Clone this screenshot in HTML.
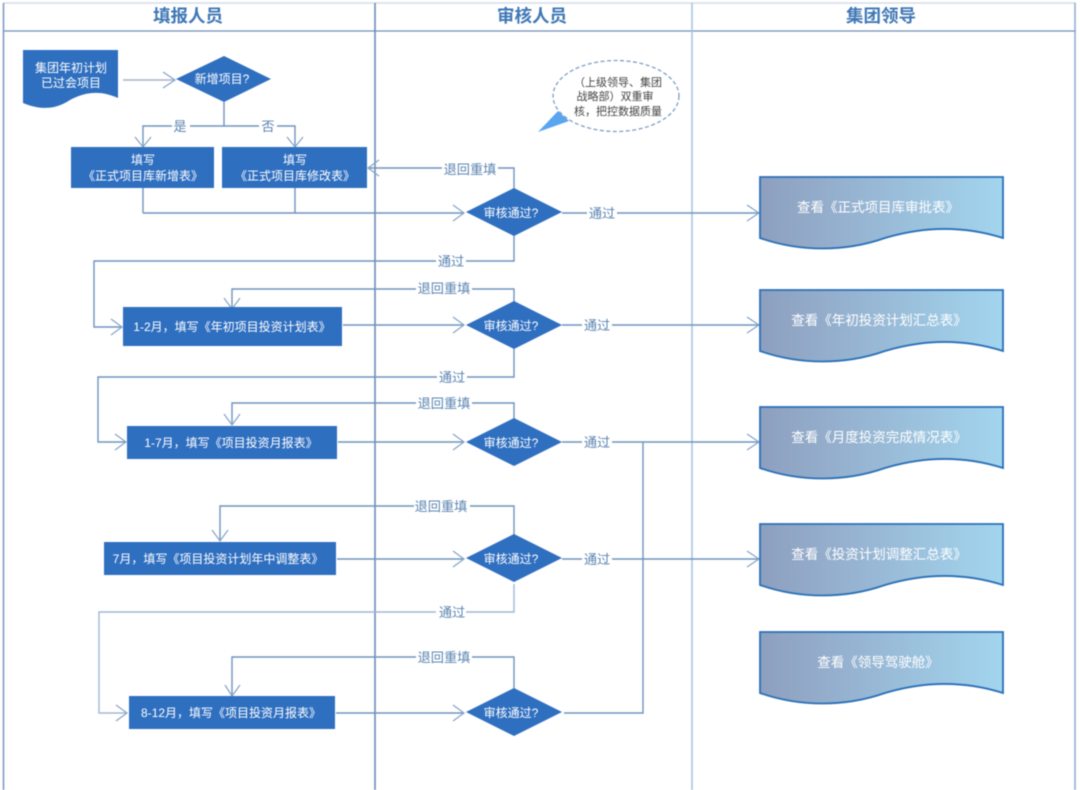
<!DOCTYPE html>
<html><head><meta charset="utf-8">
<style>
html,body{margin:0;padding:0;background:#fff;width:1080px;height:790px;overflow:hidden}
svg{display:block;filter:blur(.5px)}
text{font-family:"Liberation Sans","Noto Sans CJK SC",sans-serif;text-anchor:middle}
.w{fill:#fff;font-size:12px}
.r{fill:#fff;font-size:13.5px}
.d{fill:#fff;font-size:12px}
.l{fill:#5b84b1;font-size:13.2px}
.h{fill:#3f77b5;font-size:17.5px;font-weight:700}
.k{fill:#444;font-size:11px}
.c{fill:none;stroke:#6f93bd;stroke-width:1.4}
.a{fill:none;stroke:#86a3c6;stroke-width:1.2}
.n{fill:#2f6fc0}
</style></head><body>
<svg width="1080" height="790" viewBox="0 0 1080 790" xmlns="http://www.w3.org/2000/svg">
<defs>
<linearGradient id="g" x1="0" x2="1" y1="0" y2="0"><stop offset="0" stop-color="#8e9fbf"/><stop offset="1" stop-color="#a3d5ee"/></linearGradient>
<path id="wave" d="M0 0H243V61C205 49 165 49 125 61C85 75 40 75 0 61Z" fill="url(#g)" stroke="#2a70b8" stroke-width="1.8"/>
<path id="dia" d="M-48 0L0 -24L48 0L0 24Z" class="n"/>
</defs>

<!-- frame -->
<path d="M3 3H1076" stroke="#d3dee9" stroke-width="1.5" fill="none"/>
<path d="M3 31H1076" stroke="#6f8fb8" stroke-width="1.3" fill="none"/>
<path d="M3.5 3V790" stroke="#7d9cc4" stroke-width="1.6" fill="none"/>
<path d="M375 3V790" stroke="#6c8cb6" stroke-width="1.6" fill="none"/>
<path d="M692 3V790" stroke="#a9c4e2" stroke-width="1.6" fill="none"/>
<path d="M1075 3V790" stroke="#8aaad4" stroke-width="1.5" fill="none"/>
<text class="h" x="188" y="22">填报人员</text>
<text class="h" x="532" y="22">审核人员</text>
<text class="h" x="881" y="22">集团领导</text>

<!-- connectors -->
<g class="c">
<path d="M123 80H174" stroke="#a5b4c8"/>
<path d="M224 102V126M143 149V126H295V149"/>
<path d="M143 188V213M295 188V213M143 213H464"/>
<path d="M514 189V168H368"/>
<path d="M562 213H758"/>
<path d="M514 235V261H94V327H122"/>
<path d="M514 302V289H232V309"/>
<path d="M343 325H464"/>
<path d="M562 325H758"/>
<path d="M514 349V377H98V442H126"/>
<path d="M514 419V403H232V425"/>
<path d="M338 442H464"/>
<path d="M562 442H758"/>
<path d="M514 535V506H220V541"/>
<path d="M337 559H464"/>
<path d="M562 559H758"/>
<path d="M514 584V612H99V713H127" stroke="#a0b8d4"/>
<path d="M514 689V657H232V696"/>
<path d="M336 713H464"/>
<path d="M564 713H643V442"/>
</g>

<!-- arrowheads -->
<g class="a">
<path d="M163 72L175 80L163 88"/>
<path d="M135 137L143 147L151 137"/>
<path d="M287 137L295 147L303 137"/>
<path d="M379 160L368 168L379 176"/>
<path d="M453 205L464 213L453 221"/>
<path d="M747 205L759 213L747 221"/>
<path d="M111 319L122 327L111 335"/>
<path d="M224 298L232 309L240 298"/>
<path d="M453 317L464 325L453 333"/>
<path d="M747 317L759 325L747 333"/>
<path d="M115 434L126 442L115 450"/>
<path d="M224 414L232 425L240 414"/>
<path d="M453 434L464 442L453 450"/>
<path d="M747 434L759 442L747 450"/>
<path d="M212 530L220 541L228 530"/>
<path d="M453 551L464 559L453 567"/>
<path d="M747 551L759 559L747 567"/>
<path d="M116 705L127 713L116 721"/>
<path d="M225 685L232 696L240 685"/>
<path d="M453 705L464 713L453 721"/>
</g>

<!-- start doc -->
<path d="M23 50H118V98C100 90 85 92 70 100C55 110 40 110 23 103Z" fill="#2f6fc0"/>
<text class="w" x="71" y="72">集团年初计划</text>
<text class="w" x="71" y="87">已过会项目</text>

<!-- decision start -->
<path d="M176 79L224 56L271 79L224 102Z" class="n"/>
<text class="d" x="222" y="83">新增项目?</text>

<!-- boxes -->
<rect x="71" y="147" width="143" height="41" class="n"/>
<text class="w" x="143" y="164">填写</text>
<text class="w" x="143" y="180">《正式项目库新增表》</text>
<rect x="222" y="147" width="145" height="41" class="n"/>
<text class="w" x="295" y="164">填写</text>
<text class="w" x="295" y="180">《正式项目库修改表》</text>
<rect x="123" y="307" width="219" height="39" class="n"/>
<text class="w" x="232" y="331">1-2月，填写《年初项目投资计划表》</text>
<rect x="127" y="426" width="210" height="33" class="n"/>
<text class="w" x="231" y="447">1-7月，填写《项目投资月报表》</text>
<rect x="104" y="542" width="232" height="33" class="n"/>
<text class="w" x="218" y="563">7月，填写《项目投资计划年中调整表》</text>
<rect x="129" y="696" width="206" height="33" class="n"/>
<text class="w" x="231" y="717">8-12月，填写《项目投资月报表》</text>

<!-- decisions -->
<use href="#dia" x="514" y="212"/><text class="d" x="511" y="217">审核通过?</text>
<use href="#dia" x="514" y="325"/><text class="d" x="511" y="330">审核通过?</text>
<use href="#dia" x="514" y="442"/><text class="d" x="511" y="447">审核通过?</text>
<use href="#dia" x="514" y="558"/><text class="d" x="511" y="563">审核通过?</text>
<use href="#dia" x="514" y="712"/><text class="d" x="511" y="717">审核通过?</text>

<!-- connector labels -->
<g>
<rect x="172" y="118" width="18" height="16" fill="#fff"/><text class="l" x="180" y="131">是</text>
<rect x="259" y="118" width="18" height="16" fill="#fff"/><text class="l" x="268" y="131">否</text>
<rect x="442" y="160" width="56" height="16" fill="#fff"/><text class="l" x="470" y="174">退回重填</text>
<rect x="587" y="205" width="30" height="16" fill="#fff"/><text class="l" x="602" y="218">通过</text>
<rect x="436" y="253" width="30" height="16" fill="#fff"/><text class="l" x="451" y="266">通过</text>
<rect x="416" y="281" width="56" height="16" fill="#fff"/><text class="l" x="444" y="293">退回重填</text>
<rect x="582" y="317" width="30" height="16" fill="#fff"/><text class="l" x="597" y="330">通过</text>
<rect x="437" y="369" width="30" height="16" fill="#fff"/><text class="l" x="452" y="382">通过</text>
<rect x="416" y="395" width="56" height="16" fill="#fff"/><text class="l" x="444" y="408">退回重填</text>
<rect x="582" y="434" width="30" height="16" fill="#fff"/><text class="l" x="597" y="447">通过</text>
<rect x="414" y="498" width="56" height="16" fill="#fff"/><text class="l" x="441" y="511">退回重填</text>
<rect x="582" y="551" width="30" height="16" fill="#fff"/><text class="l" x="597" y="564">通过</text>
<rect x="436" y="604" width="30" height="16" fill="#fff"/><text class="l" x="452" y="617">通过</text>
<rect x="416" y="649" width="56" height="16" fill="#fff"/><text class="l" x="444" y="662">退回重填</text>
</g>

<!-- right docs -->
<use href="#wave" x="760" y="177"/><text class="r" x="878" y="212">查看《正式项目库审批表》</text>
<use href="#wave" x="760" y="290"/><text class="r" x="879" y="325">查看《年初投资计划汇总表》</text>
<use href="#wave" x="760" y="407"/><text class="r" x="879" y="442">查看《月度投资完成情况表》</text>
<use href="#wave" x="760" y="524"/><text class="r" x="879" y="559">查看《投资计划调整汇总表》</text>
<use href="#wave" x="760" y="632"/><text class="r" x="878" y="667">查看《领导驾驶舱》</text>

<!-- callout -->
<path d="M538 132L558 111L569 121Z" fill="#5aa5ef"/>
<ellipse cx="616" cy="96" rx="63" ry="35.5" fill="#fff" stroke="#7f9fc6" stroke-width="1.3" stroke-dasharray="4 2.5"/>
<text class="k" x="618" y="86">（上级领导、集团</text>
<text class="k" x="615" y="100">战略部）双重审</text>
<text class="k" x="618" y="115">核，把控数据质量</text>
</svg>
</body></html>
